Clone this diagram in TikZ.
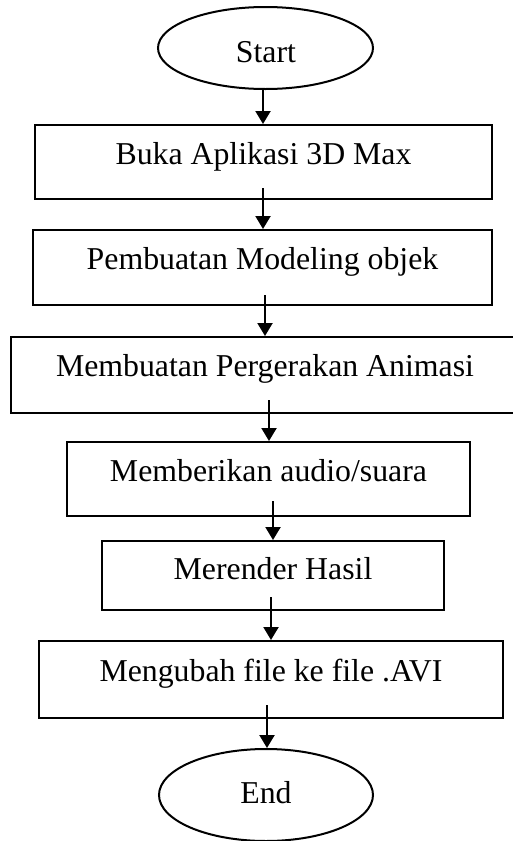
\documentclass[tikz,border=0pt]{standalone}
\usepackage{fontspec}
\setmainfont{Liberation Serif}
\usetikzlibrary{shapes.geometric,arrows.meta}
\tikzset{
  box/.style={draw=black, line width=2pt, rectangle, inner sep=0pt},
  oval/.style={draw=black, line width=2pt, ellipse, inner sep=0pt},
  lbl/.style={anchor=base, inner sep=0pt, font=\fontsize{31.8}{38}\selectfont},
  arr/.style={line width=2.2pt, -{Triangle[width=15pt,length=13pt]}}
}
\begin{document}
\begin{tikzpicture}[x=1pt,y=-1pt]
\useasboundingbox (0,0) rectangle (512,841);
\fill[white] (0,0) rectangle (512,841);
% shapes
\node[oval, minimum width=215pt, minimum height=82pt] (s) at (265.5,48) {};
\node[box, minimum width=457pt, minimum height=74pt] (b1) at (263.5,162) {};
\node[box, minimum width=459pt, minimum height=75pt] (b2) at (262.5,267.5) {};
\node[box, minimum width=508pt, minimum height=76pt] (b3) at (265,375) {};
\node[box, minimum width=403pt, minimum height=74pt] (b4) at (268.5,479) {};
\node[box, minimum width=342pt, minimum height=69pt] (b5) at (273,575.5) {};
\node[box, minimum width=464pt, minimum height=77pt] (b6) at (271,679.5) {};
\node[oval, minimum width=214pt, minimum height=92pt] (e) at (266,795) {};
% texts
\node[lbl] (st) at (266,62) {Start};
\node[lbl] (t1) at ([yshift=-40pt]b1.north) {Buka Aplikasi 3D Max};
\node[lbl] (t2) at ([yshift=-40pt]b2.north) {Pembuatan Modeling objek};
\node[lbl] (t3) at ([yshift=-40pt]b3.north) {Membuatan Pergerakan Animasi};
\node[lbl] (t4) at ([yshift=-40pt]b4.north) {Memberikan audio/suara};
\node[lbl] (t5) at ([yshift=-39pt]b5.north) {Merender Hasil};
\node[lbl] (t6) at ([yshift=-41pt]b6.north) {Mengubah file ke file .AVI};
\node[lbl] (et) at (266,803) {End};
% arrow starts
\coordinate (c0) at (263,89);
\coordinate (c1) at (263,188);
\coordinate (c2) at (265,295);
\coordinate (c3) at (269,400);
\coordinate (c4) at (273,501);
\coordinate (c5) at (271,597);
\coordinate (c6) at (267,705);
\draw[arr] (c0) -- (c0 |- b1.north);
\draw[arr] (c1) -- (c1 |- b2.north);
\draw[arr] (c2) -- (c2 |- b3.north);
\draw[arr] (c3) -- (c3 |- b4.north);
\draw[arr] (c4) -- (c4 |- b5.north);
\draw[arr] (c5) -- (c5 |- b6.north);
\draw[arr] (c6) -- (c6 |- e.north);
\end{tikzpicture}
\end{document}
